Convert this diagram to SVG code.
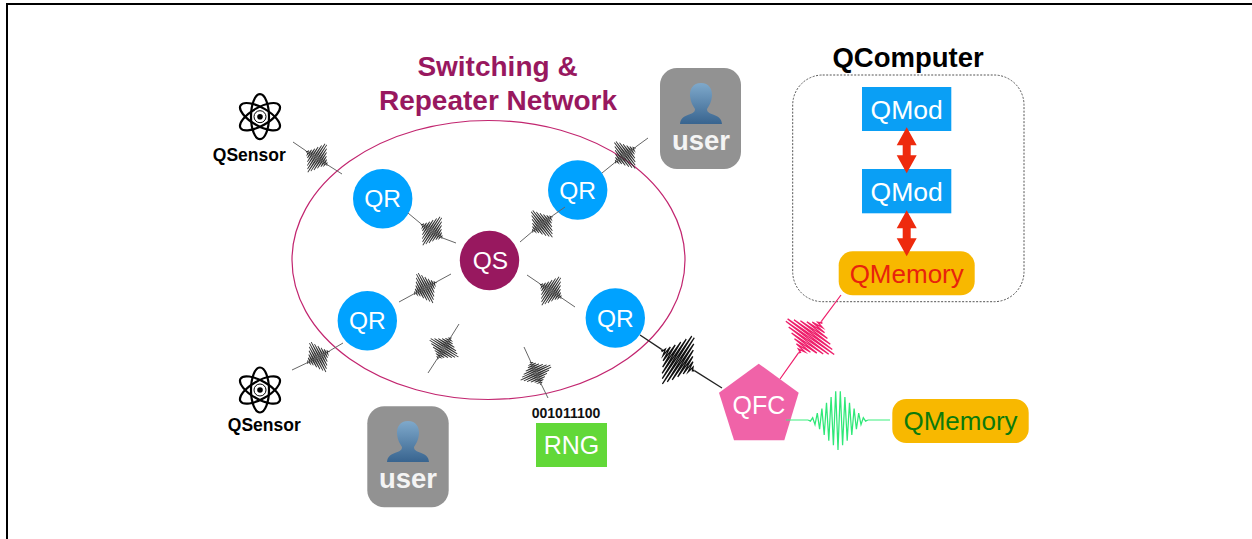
<svg xmlns="http://www.w3.org/2000/svg" width="1252" height="539" viewBox="0 0 1252 539">
<style>
text{font-family:"Liberation Sans",Arial,sans-serif;text-anchor:middle}
.qr{fill:#00a2ff}
.l24{font-size:24.500px;fill:#fff}
.u{font-size:27.500px;font-weight:700;fill:#f4f4f4}
.mod{fill:#0a9ff5}
.m26{font-size:26.500px;fill:#fff}
.mem{fill:#f8b800}
.sens{font-size:17.500px;font-weight:700;fill:#000}
.title{font-size:28px;font-weight:700;fill:#98185f}
.gl{stroke:#666;stroke-width:1;fill:none}
.gw{stroke:#333;stroke-width:.8;fill:none}
.at{fill:none;stroke:#000;stroke-width:2.200}
.box{fill:#929292}
.arr{fill:#ee2a0d}
</style>
<defs>
<path id="wave" d="M-13 0L-12 .5L-11 -1L-10 2L-9 -3L-8 4L-7 -5L-6 6.500L-5 -7.500L-4 9L-3 -10L-2 11L-1 -12.500L0 13L1 -12.500L2 11L3 -10L4 9L5 -7.500L6 6.500L7 -5L8 4L9 -3L10 2L11 -1L12 .5L13 0"/>
<linearGradient id="pg" x1="0" y1="0" x2="0" y2="1"><stop offset="0" stop-color="#7fa9cb"/><stop offset="1" stop-color="#38648f"/></linearGradient>
<g id="person"><path fill="url(#pg)" d="M0 -28C-8 -28 -11.500 -22 -11 -15C-10.500 -9 -8 -5 -6 -2C-6 1 -8 2 -12 3.500C-17 5.500 -20.500 7 -21 13L21 13C20.500 7 17 5.500 12 3.500C8 2 6 1 6 -2C8 -5 10.500 -9 11 -15C11.500 -22 8 -28 0 -28Z"/></g>
<g id="atom" class="at"><ellipse rx="9" ry="22.500"/><ellipse rx="9" ry="22.500" transform="rotate(60)"/><ellipse rx="9" ry="22.500" transform="rotate(-60)"/><circle r="6" stroke-width="1"/><circle r="2.800" fill="#000" stroke="none"/></g>
<path id="dbl" d="M0 0L10 18L4 18L4 28L10 28L0 46L-10 28L-4 28L-4 18L-10 18Z"/>
</defs>
<rect width="1252" height="539" fill="#fff"/>
<path d="M7 539V4H1252" fill="none" stroke="#000" stroke-width="2"/>
<text class="title" x="497.500" y="76">Switching &amp;</text>
<text class="title" x="498" y="110">Repeater Network</text>
<ellipse cx="488.500" cy="260" rx="196.500" ry="139.500" fill="none" stroke="#c2256f" stroke-width="1.200"/>
<g id="QR1"><circle class="qr" cx="382.700" cy="198.700" r="29.700"/><text class="l24" x="382.700" y="207">QR</text></g>
<g id="QR2"><circle class="qr" cx="577.700" cy="190" r="29.700"/><text class="l24" x="577.700" y="198.500">QR</text></g>
<g id="QR3"><circle class="qr" cx="367.300" cy="320.700" r="29.700"/><text class="l24" x="367.300" y="329">QR</text></g>
<g id="QR4"><circle class="qr" cx="615.300" cy="318" r="29.700"/><text class="l24" x="615.300" y="326.500">QR</text></g>
<g id="QS"><circle cx="489.500" cy="260.500" r="29.700" fill="#98185f"/><text class="l24" x="490.500" y="269">QS</text></g>
<g id="QSensor1"><use href="#atom" x="260" y="116.700"/><text class="sens" x="249.300" y="160.500">QSensor</text></g>
<g id="QSensor2"><use href="#atom" x="260" y="390"/><text class="sens" x="264.300" y="431">QSensor</text></g>
<g id="user1"><rect class="box" x="660" y="68" width="81" height="101" rx="17"/><use href="#person" x="701" y="111"/><text class="u" x="701" y="150">user</text></g>
<g id="user2"><rect class="box" x="367.300" y="406.300" width="81.400" height="101" rx="17"/><use href="#person" x="408" y="449"/><text class="u" x="408" y="488">user</text></g>
<g id="RNG"><text x="566" y="417.500" font-size="14" font-weight="700" fill="#111">001011100</text><rect x="536" y="423" width="71" height="44" fill="#62d838"/><text x="571.500" y="454" font-size="25" fill="#fff">RNG</text></g>
<g id="QFC"><polygon points="758.700,363.700 798.700,392.700 784.300,440.300 734,440.300 719,392.700" fill="#f063a8"/><text x="759" y="414" font-size="25" fill="#fff">QFC</text></g>
<g id="QMemory2"><rect class="mem" x="892.300" y="399" width="136.400" height="44" rx="14"/><text x="960.500" y="430" font-size="26" fill="#0b7a0b">QMemory</text></g>
<g id="QComputer">
<rect x="792.700" y="75" width="231.300" height="226.700" rx="30" fill="none" stroke="#555" stroke-width="1" stroke-dasharray="2 1.500"/>
<text x="908" y="67" font-size="27.500" font-weight="700" fill="#000">QComputer</text>
</g>
<g id="QMod1"><rect class="mod" x="862" y="87" width="89.300" height="44"/><text class="m26" x="906.700" y="119">QMod</text></g>
<g id="QMod2"><rect class="mod" x="862" y="169" width="89.300" height="44.300"/><text class="m26" x="906.700" y="201">QMod</text></g>
<g id="QMemory1"><rect class="mem" x="838.700" y="251.300" width="136" height="44" rx="14"/><text x="906.700" y="283" font-size="26" fill="#e8230c">QMemory</text></g>
<g id="arrows"><use class="arr" href="#dbl" x="906.700" y="127.300"/><use class="arr" href="#dbl" x="906.700" y="210.300"/></g>
<g id="connectors">
<path class="gl" d="M293 142L306.100 150.900M327.900 165.100L342 174M408 213L421.100 223.900M442.900 238.100L456 243M520 242L531.800 232M552.200 216L565 207M602 173L614.600 162.800M635.400 147.200L648 138M399 302L413.500 294.100M436.500 281.900L451 274M292 370L306.500 363.100M329.500 350.900L343 343M428 373L437.100 359M450.900 337L459 324M527 275L540.100 283.900M561.900 298.100L575 307M524 347L530.500 361.200M541.500 384.800L548 398"/>
<g class="gw">
<use href="#wave" transform="translate(317 158) rotate(33) scale(1 1.300)"/>
<use href="#wave" transform="translate(432 231) rotate(33) scale(1 1.300)"/>
<use href="#wave" transform="translate(542 224) rotate(-38) scale(1 1.300)"/>
<use href="#wave" transform="translate(625 155) rotate(-37) scale(1 1.300)"/>
<use href="#wave" transform="translate(425 288) rotate(-28) scale(1 1.300)"/>
<use href="#wave" transform="translate(318 357) rotate(-28) scale(1 1.300)"/>
<use href="#wave" transform="translate(444 348) rotate(-58) scale(1 1.300)"/>
<use href="#wave" transform="translate(551 291) rotate(33) scale(1 1.300)"/>
<use href="#wave" transform="translate(536 373) rotate(65) scale(1 1.300)"/>
</g>
<path d="M640 335L661.600 349.400M694.400 370.600L722 388" fill="none" stroke="#222" stroke-width="1.300"/>
<use href="#wave" transform="translate(678 360) rotate(33) scale(1.500 2.200)" fill="none" stroke="#111" stroke-width=".85"/>
<path d="M780 379L798.500 352.800M821.500 321.200L841 295" fill="none" stroke="#ee1f6b" stroke-width="1.200"/>
<use href="#wave" transform="translate(810 337) rotate(-54) scale(1.500 2.300)" fill="none" stroke="#ee1f6b" stroke-width=".85"/>
<path d="M786 420H808M868 420H890" fill="none" stroke="#3df07f" stroke-width="1.200"/>
<use href="#wave" transform="translate(838 420) scale(2.300)" fill="none" stroke="#2fe878" stroke-width=".55"/>
</g>
</svg>
